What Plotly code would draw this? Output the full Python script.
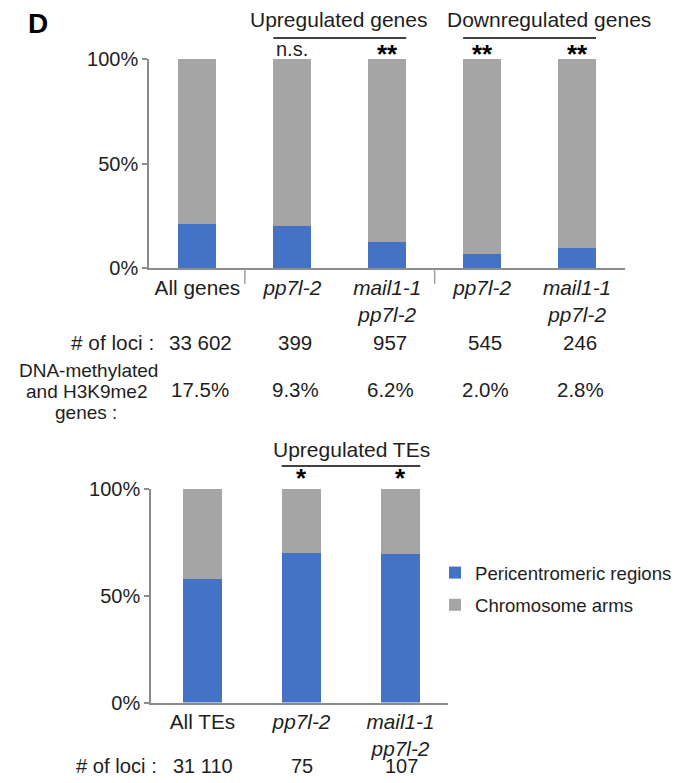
import plotly.graph_objects as go

OFF = 8  # page body margin in the browser
W, H = 685 - 2 * OFF, 783 - 2 * OFF
FONT = "Arial, Liberation Sans, sans-serif"
BLUE = "#4472C4"
GREY = "#A5A5A5"
AXIS = "#8C8C8C"

# ---------------- data ----------------
gene_categories = ["All genes", "<i>pp7l-2</i>", "<i>mail1-1<br>pp7l-2</i>",
                   "<i>pp7l-2</i>", "<i>mail1-1<br>pp7l-2</i>"]
gene_pericentromeric = [21.0, 20.0, 12.5, 6.5, 9.5]
gene_arms = [100 - v for v in gene_pericentromeric]
gene_loci = ["33 602", "399", "957", "545", "246"]
gene_methylated = ["17.5%", "9.3%", "6.2%", "2.0%", "2.8%"]
gene_signif = ["n.s.", "**", "**", "**"]  # for bars 1..4

te_categories = ["All TEs", "<i>pp7l-2</i>", "<i>mail1-1<br>pp7l-2</i>"]
te_pericentromeric = [58.0, 70.0, 69.5]
te_arms = [100 - v for v in te_pericentromeric]
te_loci = ["31 110", "75", "107"]
te_signif = ["*", "*"]  # for bars 1..2

y_ticks = [0, 50, 100]
y_ticktext = ["0%", "50%", "100%"]


def px(x):
    return (x - OFF) / W


def py(y):
    return 1 - (y - OFF) / H


gx = list(range(len(gene_categories)))
tx = list(range(len(te_categories)))

fig = go.Figure()
fig.add_trace(go.Bar(x=gx, y=gene_pericentromeric, marker_color=BLUE,
                     name="Pericentromeric regions", xaxis="x", yaxis="y",
                     legendgroup="p", showlegend=False))
fig.add_trace(go.Bar(x=gx, y=gene_arms, marker_color=GREY,
                     name="Chromosome arms", xaxis="x", yaxis="y",
                     legendgroup="c", showlegend=False))
fig.add_trace(go.Bar(x=tx, y=te_pericentromeric, marker_color=BLUE,
                     name="Pericentromeric regions", xaxis="x2", yaxis="y2",
                     legendgroup="p"))
fig.add_trace(go.Bar(x=tx, y=te_arms, marker_color=GREY,
                     name="Chromosome arms", xaxis="x2", yaxis="y2",
                     legendgroup="c"))

axis_common = dict(showline=True, linecolor=AXIS, linewidth=1.5,
                   showgrid=False, zeroline=False, automargin=False)

fig.update_layout(
    template="none",
    width=W, height=H, autosize=False,
    margin=dict(l=0, r=0, t=0, b=0, pad=0, autoexpand=False),
    paper_bgcolor="white", plot_bgcolor="white",
    barmode="stack", bargap=0.6,
    font=dict(family=FONT, size=20, color="#1e1e1e"),
    xaxis=dict(domain=[px(149), px(624.5)], range=[-0.51, 4.5],
               tickmode="array", tickvals=gx, ticktext=gene_categories, ticks="",
               tickfont=dict(family=FONT, size=20.8, color="#1e1e1e"),
               anchor="y", **axis_common),
    yaxis=dict(domain=[py(268), py(59)], range=[0, 100],
               tickmode="array", tickvals=y_ticks, ticktext=y_ticktext,
               ticks="outside", ticklen=5, tickcolor=AXIS, tickwidth=1.5,
               tickfont=dict(family=FONT, size=20, color="#1e1e1e"),
               anchor="x", **axis_common),
    xaxis2=dict(domain=[px(151), px(448)], range=[-0.52, 2.48],
                tickmode="array", tickvals=tx, ticktext=te_categories, ticks="",
                tickfont=dict(family=FONT, size=20.8, color="#1e1e1e"),
                anchor="y2", **axis_common),
    yaxis2=dict(domain=[py(702.5), py(489)], range=[0, 100],
                tickmode="array", tickvals=y_ticks, ticktext=y_ticktext,
                ticks="outside", ticklen=5, tickcolor=AXIS, tickwidth=1.5,
                tickfont=dict(family=FONT, size=20, color="#1e1e1e"),
                anchor="x2", **axis_common),
    legend=dict(x=1, y=py(589), xanchor="right", yanchor="middle",
                traceorder="grouped", tracegroupgap=5,
                bgcolor="rgba(0,0,0,0)", borderwidth=0,
                font=dict(family=FONT, size=18.6, color="#1e1e1e"),
                itemwidth=30),
)

shapes = []
annotations = []


def text(x, y, s, size=20, xref="paper", xanchor="center", bold=False, xshift=0):
    annotations.append(dict(
        x=x, y=y, xref=xref, yref="paper", text=f"<b>{s}</b>" if bold else s,
        showarrow=False, xanchor=xanchor, yanchor="middle", xshift=xshift,
        borderpad=0,
        font=dict(family=FONT, size=size, color="#000" if bold else "#1e1e1e")))


# panel label
text(px(38), py(24), "D", size=28, bold=True)

# top panel headers and brackets
text(px(338), py(20), "Upregulated genes", size=21)
text(px(549), py(20), "Downregulated genes", size=21)
for x0, x1 in [(1 - 0.2, 2 + 0.2), (3 - 0.2, 4 + 0.2)]:
    shapes.append(dict(type="line", xref="x", yref="paper", x0=x0, x1=x1,
                       y0=py(38), y1=py(38), line=dict(color="#404040", width=2)))
for i, s in enumerate(gene_signif):
    if s == "n.s.":
        text(gx[i + 1], py(49), s, xref="x")
    else:
        text(gx[i + 1], py(54), s, size=26, xref="x", bold=True)

# separators below top x-axis
for xs in [0.5, 2.5]:
    shapes.append(dict(type="line", xref="x", yref="paper", x0=xs, x1=xs,
                       y0=py(268), y1=py(284), line=dict(color="#A0A0A0", width=1.5)))

# rows under top panel
text(px(155), py(342), "# of loci :", xanchor="right", size=20.8)
for i, s in enumerate(gene_loci):
    text(gx[i], py(342), s, xref="x", xshift=3, size=20.5)
text(px(88), py(370), "DNA-methylated", size=19)
text(px(86), py(391), "and H3K9me2", size=19)
text(px(86), py(412), "genes :", size=19)
for i, s in enumerate(gene_methylated):
    text(gx[i], py(389), s, xref="x", xshift=3, size=20.5)

# bottom panel header
text(px(351), py(449), "Upregulated TEs", size=21)
shapes.append(dict(type="line", xref="x2", yref="paper", x0=1 - 0.2, x1=2 + 0.2,
                   y0=py(466), y1=py(466), line=dict(color="#404040", width=2)))
for i, s in enumerate(te_signif):
    text(tx[i + 1], py(478), s, size=26, xref="x2", bold=True)

text(px(158), py(766), "# of loci :", xanchor="right", size=20.2)
for i, s in enumerate(te_loci):
    text(tx[i], py(766), s, xref="x2", xshift=1, size=20)

fig.update_layout(shapes=shapes, annotations=annotations)
fig.write_html("out.html")
